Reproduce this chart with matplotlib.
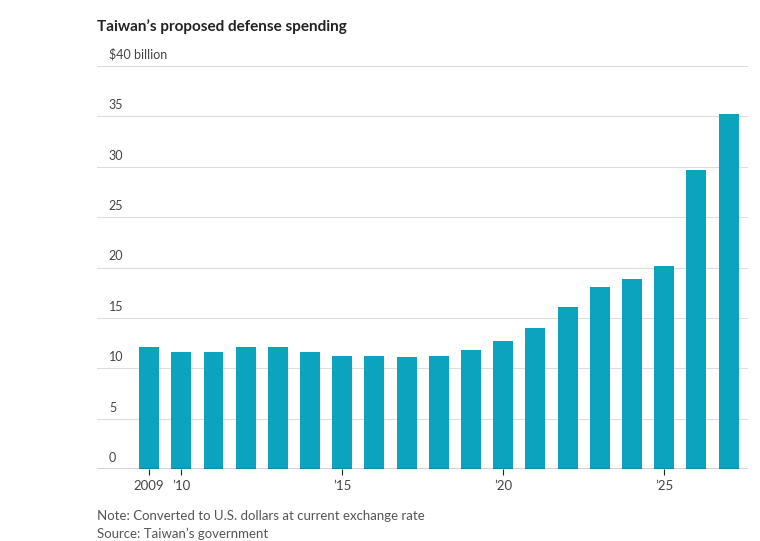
import matplotlib
matplotlib.use("Agg")
import matplotlib.pyplot as plt

years = list(range(2009, 2028))
values = [12.1, 11.6, 11.6, 12.1, 12.1, 11.6, 11.2, 11.2, 11.1, 11.2, 11.8, 12.7, 14.0, 16.1, 18.1, 18.9, 20.2, 29.7, 35.2]
yticks = [0, 5, 10, 15, 20, 25, 30, 35, 40]
ytick_labels = ["0", "5", "10", "15", "20", "25", "30", "35", "$40 billion"]
xticks = [2009, 2010, 2015, 2020, 2025]
xtick_labels = ["2009", "\u201910", "\u201915", "\u201920", "\u201925"]

plt.rcParams['font.family'] = ['Lato', 'DejaVu Sans']
fig = plt.figure(figsize=(7.6, 5.41), dpi=100)
ax = fig.add_axes([0.128, 0.133, 0.856, 0.745])
ax.bar(years, values, width=0.62, color="#0ba3be", zorder=2)
ax.set_xlim(2007.39, 2027.6)
ax.set_ylim(0, 40)
for t, lab in zip(yticks, ytick_labels):
    if t > 0:
        ax.axhline(t, color="#dddddd", lw=0.8, zorder=1)
    ax.text(2007.75, t + 0.5, lab, fontsize=9, color="#444444", va="bottom", ha="left")
ax.axhline(0, color="#222222", lw=1, zorder=3)
ax.set_yticks([])
ax.set_xticks(xticks)
ax.set_xticklabels(xtick_labels, fontsize=9.5, color="#444444")
ax.tick_params(axis="x", length=4, color="#222222", pad=4)
for s in ax.spines.values():
    s.set_visible(False)
fig.text(0.128, 0.95, "Taiwan\u2019s proposed defense spending", fontsize=11, fontweight="bold", color="#222222", va="center")
fig.text(0.128, 0.047, "Note: Converted to U.S. dollars at current exchange rate", fontsize=9.5, color="#555555", va="center")
fig.text(0.128, 0.013, "Source: Taiwan\u2019s government", fontsize=9.5, color="#555555", va="center")
fig.savefig("out.png", dpi=100)
